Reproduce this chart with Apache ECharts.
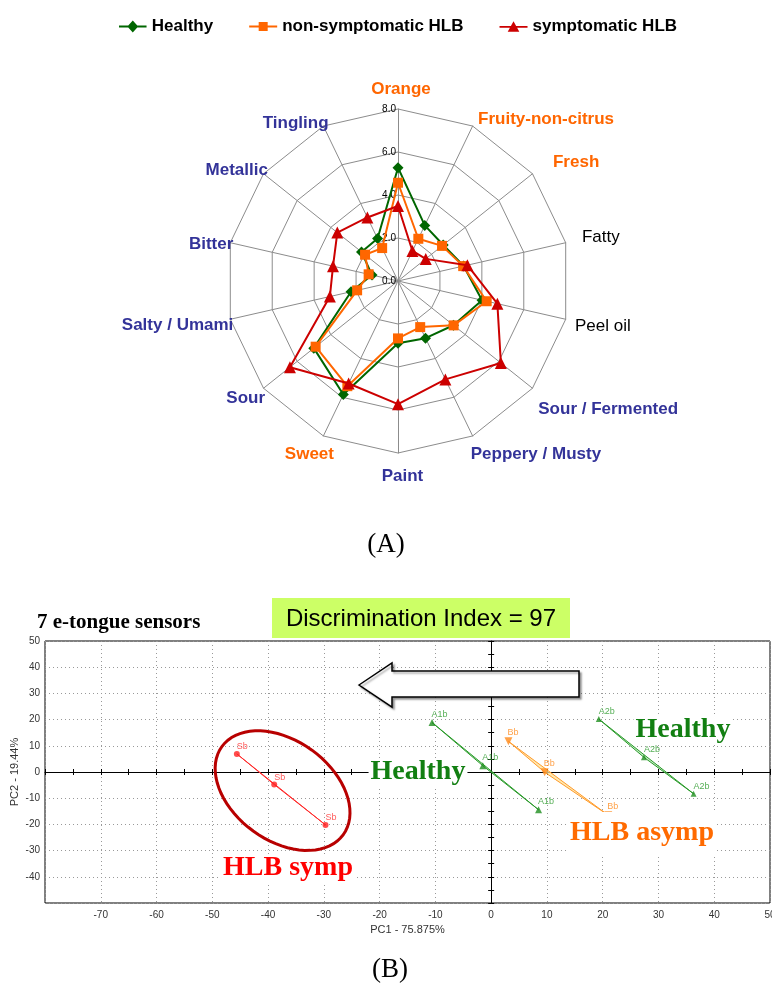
<!DOCTYPE html>
<html><head><meta charset="utf-8">
<script src="https://cdn.jsdelivr.net/npm/echarts@6/dist/echarts.min.js"></script>
<style>html,body{margin:0;padding:0;background:#fff}#c{width:772px;height:987px}</style>
</head><body><div id="c"></div>
<script>
// ---------- (A) sensory radar ----------
const attributes = ['Orange','Fruity-non-citrus','Fresh','Fatty','Peel oil','Sour / Fermented','Peppery / Musty','Paint','Sweet','Sour','Salty / Umami','Bitter','Metallic','Tingling'];
const healthy        = [5.27, 2.87, 2.69, 3.13, 4.01, 3.3, 2.95, 2.9, 5.86, 5.01, 2.24, 1.24, 2.17, 2.19];
const nonSymptomatic = [4.57, 2.18, 2.62, 3.11, 4.23, 3.31, 2.38, 2.67, 5.43, 4.9, 1.95, 1.4, 1.96, 1.7];
const symptomatic    = [3.49, 1.55, 1.65, 3.31, 4.74, 6.12, 5.08, 5.73, 5.29, 6.43, 3.25, 3.1, 3.61, 3.28];
const radarMax = 8;
const seriesNames = ['Healthy','non-symptomatic HLB','symptomatic HLB'];

// ---------- (B) e-tongue PCA ----------
const sbX = [-45.6, -38.9, -29.7], sbY = [6.9, -4.8, -20.2];
const a1X = [-10.6, -1.5, 8.5],   a1Y = [18.9, 2.4, -14.4];
const a2X = [19.3, 27.4, 36.3],   a2Y = [20.2, 5.6, -8.3];
const bbX = [3.1, 9.6, 21.0],     bbY = [11.7, -0.1, -16.5];
const xTicks = {min: -80, max: 50, step: 10};
const yTicks = {min: -50, max: 50, step: 10};

// ---------- styles ----------
const attributeColors = ['#FF6600','#FF6600','#FF6600','#000000','#000000','#333399','#333399','#333399','#FF6600','#333399','#333399','#333399','#333399','#333399'];
const attributeWeights = ['bold','bold','bold','normal','normal','bold','bold','bold','bold','bold','bold','bold','bold','bold'];
// label nudges (px) relative to the outer vertex of each spoke
const labelNudge = [[3,-11],[5.4,-6.7],[20.5,-11],[16.3,-5],[9.3,7.4],[5.8,21],[-1.9,18],[4.5,15],[10.6,18],[1.5,10],[3,5.7],[3,1.3],[4.4,-3.8],[5.2,-2.7]];
const NAME_GAP = -30;

// radar in ECharts runs counter-clockwise; reorder so the picture runs clockwise
const order = [0].concat(attributes.map((_, i) => i).slice(1).reverse());
const ro = arr => order.map(i => arr[i]);

const narrow = 'Liberation Sans Narrow, Arial Narrow, Liberation Sans, Arial, sans-serif';
const arial = 'Liberation Sans, Arial, sans-serif';
const serif = 'Liberation Serif, Times New Roman, serif';

const rich = {};
attributes.forEach((n, k) => {
  const th = k * 2 * Math.PI / attributes.length;
  const dx = Math.sin(th), dy = -Math.cos(th);
  const sx = labelNudge[k][0] - NAME_GAP * dx, sy = labelNudge[k][1] - NAME_GAP * dy;
  let pad = [0, 0, 0, 0];
  if (Math.abs(dx) < 1e-6) {
    pad[3] = Math.max(0, 2 * sx); pad[1] = Math.max(0, -2 * sx);
    if (dy < 0) pad[2] = Math.max(0, -sy); else pad[0] = Math.max(0, sy);
  } else {
    if (dx > 0) pad[3] = Math.max(0, sx); else pad[1] = Math.max(0, -sx);
    if (sy > 0) pad[0] = 2 * sy; else pad[2] = -2 * sy;
  }
  rich['r' + k] = {color: attributeColors[k], fontWeight: attributeWeights[k], fontSize: 17, fontFamily: arial, padding: pad};
});

const chart = echarts.init(document.getElementById('c'), null, {renderer: 'canvas'});

const groups = [
  {x: sbX, y: sbY, stroke: '#ff2a2a', fill: 'rgba(255,150,150,0.35)'},
  {x: a1X, y: a1Y, stroke: '#2a9a2a', fill: 'rgba(150,220,150,0.55)'},
  {x: a2X, y: a2Y, stroke: '#2a9a2a', fill: 'rgba(150,220,150,0.55)'},
  {x: bbX, y: bbY, stroke: '#ff9a2a', fill: 'rgba(255,225,150,0.75)'}
];
const ellipseCenter = [-37.4, -7.1];

function pts(xs, ys, name) { return xs.map((x, i) => ({value: [x, ys[i]], name: name})); }

const radarColors = ['#006600', '#FF6600', '#CC0000'];
const radarSymbols = ['diamond', 'rect', 'triangle'];
const radarSizes = [11, 10, 12];
const radarData = [healthy, nonSymptomatic, symptomatic];
const legendIcons = [
  'path://M0,5.2h28v1.8H0z M14,0 L19.5,6.1 L14,12.2 L8.5,6.1z',
  'path://M0,5.2h28v1.8H0z M9.5,1.6h9v9h-9z',
  'path://M0,5.2h28v1.8H0z M14,0.5 L19.8,11 H8.2z'
];

const option = {
  animation: false,
  backgroundColor: '#fff',
  legend: {
    top: 13, left: 114,
    itemWidth: 28, itemHeight: 12, itemGap: 36,
    textStyle: {fontFamily: arial, fontWeight: 'bold', fontSize: 17, color: '#000'},
    data: seriesNames.map((n, i) => ({name: n, icon: legendIcons[i]}))
  },
  radar: {
    center: [398, 281], radius: 172, startAngle: 90, shape: 'polygon', splitNumber: 4,
    indicator: ro(attributes).map((n, k) => {
      const ind = {name: n, min: 0, max: radarMax, color: ro(attributeColors)[k]};
      if (k === 0) ind.axisLabel = {show: true, fontSize: 10, color: '#000', fontFamily: arial, margin: 2, formatter: v => Number(v).toFixed(1)};
      return ind;
    }),
    axisName: {fontWeight: 'bold', fontSize: 17, fontFamily: arial,
      formatter: name => '{r' + attributes.indexOf(name) + '|' + name + '}', rich: rich},
    nameGap: NAME_GAP,
    axisLine: {lineStyle: {color: '#8c8c8c', width: 1}},
    splitLine: {lineStyle: {color: '#8c8c8c', width: 1}},
    splitArea: {show: false},
    axisTick: {show: false},
    axisLabel: {show: false}
  },
  grid: {left: 45, right: 2, top: 641, bottom: 84, outerBoundsMode: 'none', containLabel: false,
         show: true, borderColor: '#000', borderWidth: 1, backgroundColor: 'transparent'},
  xAxis: [
    {type: 'value', min: xTicks.min, max: xTicks.max, interval: xTicks.step, position: 'bottom',
     axisLine: {show: false, onZero: false}, axisTick: {show: false},
     axisLabel: {fontSize: 10, color: '#333', fontFamily: narrow, margin: 7, formatter: v => v === xTicks.min ? '' : String(v)},
     splitLine: {show: true, lineStyle: {color: '#999', type: [1, 3], width: 1}},
     name: 'PC1 - 75.875%', nameLocation: 'middle', nameGap: 21,
     nameTextStyle: {fontSize: 11, color: '#333', fontFamily: narrow}},
    {type: 'value', min: xTicks.min, max: xTicks.max, interval: 5,
     axisLine: {show: true, onZero: true, onZeroAxisIndex: 0, lineStyle: {color: '#000', width: 1}},
     axisTick: {show: true, inside: true, length: 3, lineStyle: {color: '#000'}},
     axisLabel: {show: false}, splitLine: {show: false}},
    {type: 'value', min: xTicks.min, max: xTicks.max, interval: 5,
     axisLine: {show: false, onZero: true, onZeroAxisIndex: 0},
     axisTick: {show: true, inside: false, length: 3, lineStyle: {color: '#000'}},
     axisLabel: {show: false}, splitLine: {show: false}}
  ],
  yAxis: [
    {type: 'value', min: yTicks.min, max: yTicks.max, interval: yTicks.step, position: 'left',
     axisLine: {show: false, onZero: false}, axisTick: {show: false},
     axisLabel: {fontSize: 10, color: '#333', fontFamily: narrow, margin: 5, formatter: v => v === yTicks.min ? '' : String(v)},
     splitLine: {show: true, lineStyle: {color: '#999', type: [1, 3], width: 1}},
     name: 'PC2 - 19.44%', nameLocation: 'middle', nameGap: 25, nameMoveOverlap: false,
     nameTextStyle: {fontSize: 11, color: '#333', fontFamily: narrow}},
    {type: 'value', min: yTicks.min, max: yTicks.max, interval: 5,
     axisLine: {show: true, onZero: true, onZeroAxisIndex: 0, lineStyle: {color: '#000', width: 1}},
     axisTick: {show: true, inside: true, length: 3, lineStyle: {color: '#000'}},
     axisLabel: {show: false}, splitLine: {show: false}},
    {type: 'value', min: yTicks.min, max: yTicks.max, interval: 5,
     axisLine: {show: false, onZero: true, onZeroAxisIndex: 0},
     axisTick: {show: true, inside: false, length: 3, lineStyle: {color: '#000'}},
     axisLabel: {show: false}, splitLine: {show: false}}
  ],
  series: [
    ...seriesNames.map((n, i) => ({
      type: 'radar', name: n, radarIndex: 0, z: 2 + i,
      symbol: radarSymbols[i], symbolSize: radarSizes[i],
      itemStyle: {color: radarColors[i]},
      lineStyle: {color: radarColors[i], width: 2},
      data: [{name: n, value: ro(radarData[i])}]
    })),
    {
      type: 'custom', xAxisIndex: 0, yAxisIndex: 0, z: 3, silent: true,
      data: groups.map((g, i) => [i]),
      encode: {x: -1, y: -1},
      renderItem: (params, api) => {
        const g = groups[api.value(0)];
        const p = g.x.map((x, j) => api.coord([x, g.y[j]]));
        return {type: 'polygon', shape: {points: p}, style: {fill: g.fill, stroke: g.stroke, lineWidth: 1}};
      }
    },
    {type: 'scatter', xAxisIndex: 0, yAxisIndex: 0, z: 4, symbol: 'circle', symbolSize: 6,
     itemStyle: {color: '#ff2020'}, data: pts(sbX, sbY, 'Sb'),
     label: {show: true, formatter: '{b}', position: [3, -9], fontSize: 9, color: '#ff3030', fontFamily: narrow}},
    {type: 'scatter', xAxisIndex: 0, yAxisIndex: 0, z: 4, symbol: 'triangle', symbolSize: 7,
     itemStyle: {color: '#1f8f1f'}, data: pts(a1X, a1Y, 'A1b'),
     label: {show: true, formatter: '{b}', position: [3, -9], fontSize: 9, color: '#2a9a2a', fontFamily: narrow}},
    {type: 'scatter', xAxisIndex: 0, yAxisIndex: 0, z: 4, symbol: 'triangle', symbolSize: 6,
     itemStyle: {color: '#1f8f1f'}, data: pts(a2X, a2Y, 'A2b'),
     label: {show: true, formatter: '{b}', position: [3, -9], fontSize: 9, color: '#2a9a2a', fontFamily: narrow}},
    {type: 'scatter', xAxisIndex: 0, yAxisIndex: 0, z: 4, symbol: 'triangle', symbolRotate: 180, symbolSize: 8,
     itemStyle: {color: '#ff8a1a'}, data: pts(bbX, bbY, 'Bb'),
     label: {show: true, formatter: '{b}', position: [3, -9], fontSize: 9, color: '#ff8a1a', fontFamily: narrow}},
    {
      type: 'custom', xAxisIndex: 0, yAxisIndex: 0, z: 5, silent: true,
      data: [ellipseCenter],
      renderItem: (params, api) => {
        const c = api.coord([api.value(0), api.value(1)]);
        const a = 75, b = 50, rot = 36 * Math.PI / 180, p = [];
        for (let k = 0; k < 72; k++) {
          const t = k / 72 * Math.PI * 2;
          const ex = a * Math.cos(t), ey = b * Math.sin(t);
          p.push([c[0] + ex * Math.cos(rot) - ey * Math.sin(rot), c[1] + ex * Math.sin(rot) + ey * Math.cos(rot)]);
        }
        return {type: 'polygon', shape: {points: p}, style: {fill: 'none', stroke: '#b80000', lineWidth: 3}};
      }
    }
  ],
  graphic: [
    {type: 'text', z: 100, style: {text: '(A)', x: 386, y: 545, align: 'center', verticalAlign: 'middle', font: '27px ' + serif, fill: '#000'}},
    {type: 'text', z: 100, style: {text: '(B)', x: 390, y: 970, align: 'center', verticalAlign: 'middle', font: '27px ' + serif, fill: '#000'}},
    {type: 'text', z: 100, style: {text: '7 e-tongue sensors', x: 37, y: 623, align: 'left', verticalAlign: 'middle', font: 'bold 21px ' + serif, fill: '#000'}},
    {type: 'rect', z: 100, shape: {x: 272, y: 598, width: 298, height: 40}, style: {fill: '#ccff66'}},
    {type: 'text', z: 101, style: {text: 'Discrimination Index = 97', x: 421, y: 619, align: 'center', verticalAlign: 'middle', font: '24px ' + arial, fill: '#000'}},
    {type: 'polygon', z: 100, shape: {points: [[359, 685], [392, 663], [392, 671], [579, 671], [579, 697], [392, 697], [392, 707]]},
     style: {fill: '#fff', stroke: '#000', lineWidth: 1.5, shadowBlur: 2, shadowOffsetX: 2, shadowOffsetY: 2, shadowColor: 'rgba(0,0,0,0.35)'}},
    {type: 'text', z: 100, style: {text: 'Healthy', x: 418, y: 772, align: 'center', verticalAlign: 'middle', font: 'bold 28px ' + serif, fill: '#127f12', backgroundColor: '#fff', padding: [0, 2]}},
    {type: 'text', z: 100, style: {text: 'Healthy', x: 683, y: 730, align: 'center', verticalAlign: 'middle', font: 'bold 28px ' + serif, fill: '#127f12', backgroundColor: '#fff', padding: [0, 2]}},
    {type: 'text', z: 100, style: {text: 'HLB asymp', x: 642, y: 833, align: 'center', verticalAlign: 'middle', font: 'bold 28px ' + serif, fill: '#ff6a00', backgroundColor: '#fff', padding: [12, 2, 2, 2]}},
    {type: 'text', z: 100, style: {text: 'HLB symp', x: 288, y: 868, align: 'center', verticalAlign: 'middle', font: 'bold 28px ' + serif, fill: '#ff0000', backgroundColor: '#fff', padding: [0, 2]}}
  ]
};
chart.setOption(option);
</script></body></html>
